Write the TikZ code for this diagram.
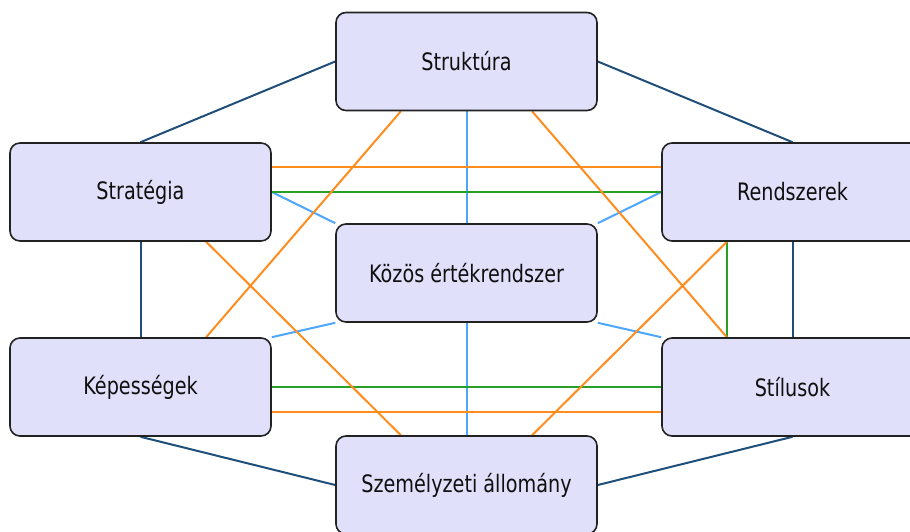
\documentclass[tikz,border=0pt]{standalone}
\usepackage{fontspec}
\setmainfont[FakeStretch=0.8]{DejaVu Sans}
\usetikzlibrary{calc,backgrounds}
\definecolor{boxfill}{RGB}{224,224,250}
\definecolor{boxline}{RGB}{34,34,34}
\definecolor{textcol}{RGB}{15,15,15}
\definecolor{navyc}{RGB}{31,78,121}
\definecolor{skyc}{RGB}{77,166,255}
\definecolor{greenc}{RGB}{40,160,40}
\definecolor{orangec}{RGB}{255,140,30}
\begin{document}
\begin{tikzpicture}[x=1pt,y=-1pt,
  box/.style={draw=boxline, line width=1.6pt, fill=boxfill, rounded corners=10pt,
    minimum width=261pt, minimum height=98pt, inner sep=0pt,
    font=\fontsize{24}{28}\selectfont, text=textcol},
  navyline/.style={draw=navyc, line width=2pt},
  skyline/.style={draw=skyc, line width=2pt},
  greenline/.style={draw=greenc, line width=2pt},
  orangeline/.style={draw=orangec, line width=2pt}]
\useasboundingbox (0,0) rectangle (910,532);
\node[box] (S) at (466.5,61.5) {Struktúra};
\node[box] (Str) at (140.5,192) {Stratégia};
\node[box] (R) at (792.5,192) {Rendszerek};
\node[box] (K) at (466.5,273) {Közös értékrendszer};
\node[box] (Kep) at (140.5,387) {Képességek};
\node[box] (Sti) at (792.5,387) {Stílusok};
\node[box] (Sz) at (466.5,485) {Személyzeti állomány};
\begin{scope}[on background layer]
% navy outer ring
\draw[navyline] (S.west) -- (Str.north);
\draw[navyline] (S.east) -- (R.north);
\draw[navyline] (Str.south) -- (Kep.north);
\draw[navyline] (R.south) -- (Sti.north);
\draw[navyline] (Kep.south) -- (Sz.west);
\draw[navyline] (Sti.south) -- (Sz.east);
% sky blue to centre
\draw[skyline] (S.south) -- (K.north);
\draw[skyline] (K.south) -- (Sz.north);
\draw[skyline] (Str.east) -- (K.north west);
\draw[skyline] (R.west) -- (K.north east);
\draw[skyline] (K.south west) -- (Kep.north east);
\draw[skyline] (K.south east) -- (Sti.north west);
% green
\draw[greenline] (Str.east) -- (R.west);
\draw[greenline] (Kep.east) -- (Sti.west);
\draw[greenline] ($(R.south west)!0.25!(R.south east)$) -- ($(Sti.north west)!0.25!(Sti.north east)$);
% orange
\draw[orangeline] ($(Str.north east)!0.25!(Str.south east)$) -- ($(R.north west)!0.25!(R.south west)$);
\draw[orangeline] ($(Kep.north east)!0.75!(Kep.south east)$) -- ($(Sti.north west)!0.75!(Sti.south west)$);
\draw[orangeline] ($(S.south west)!0.25!(S.south east)$) -- ($(Kep.north west)!0.75!(Kep.north east)$);
\draw[orangeline] ($(S.south west)!0.75!(S.south east)$) -- ($(Sti.north west)!0.25!(Sti.north east)$);
\draw[orangeline] ($(Str.south west)!0.75!(Str.south east)$) -- ($(Sz.north west)!0.25!(Sz.north east)$);
\draw[orangeline] ($(R.south west)!0.25!(R.south east)$) -- ($(Sz.north west)!0.75!(Sz.north east)$);
\end{scope}
\end{tikzpicture}
\end{document}
